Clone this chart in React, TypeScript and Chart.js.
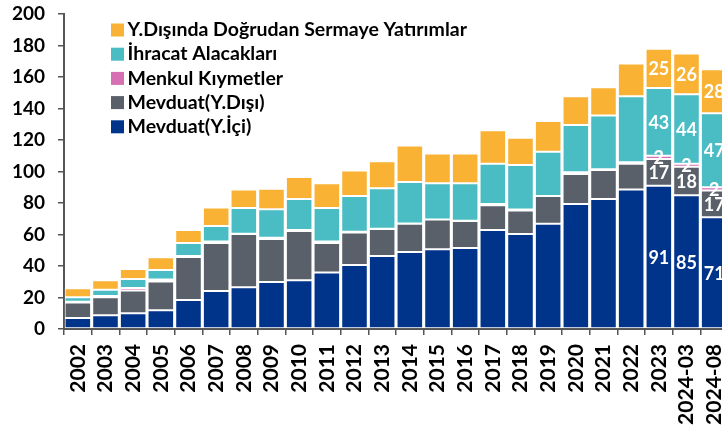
import React, { useEffect, useRef } from "react";
import { Chart, registerables } from "chart.js";

Chart.register(...registerables);

const categories = [
  "2002", "2003", "2004", "2005", "2006", "2007", "2008", "2009", "2010", "2011", "2012",
  "2013", "2014", "2015", "2016", "2017", "2018", "2019", "2020", "2021", "2022", "2023",
  "2024-03", "2024-08",
];

const mevduatIci = [7, 8.7, 10, 11.9, 18.4, 24.1, 26.5, 29.8, 30.9, 35.8, 40.6, 46.3, 48.9, 50.6, 51.4, 62.9, 60.3, 66.9, 79.3, 82.5, 88.5, 91, 85, 71];
const mevduatDisi = [9.8, 11.4, 14.4, 18.2, 27.3, 30.5, 33.8, 27.3, 31.3, 18.8, 20.6, 17.2, 18, 18.9, 17.2, 15.6, 14.9, 17.5, 19.1, 18.5, 16.5, 17, 18, 17];
const menkulKiymetler = [0.5, 0.9, 1.6, 1.3, 0.6, 0.9, 0.2, 0.9, 0.7, 0.9, 0.6, 0.2, 0.1, 0.1, 0.1, 0.8, 0.6, 0.1, 1.2, 0.4, 0.8, 2, 2, 2];
const ihracatAlacaklari = [2.8, 4, 5.8, 6.1, 8.3, 9.9, 16.3, 18, 19.6, 21.3, 22.6, 25.6, 26.4, 23, 23.8, 25.6, 28.3, 28, 29.9, 34.1, 42, 43, 44, 47];
const dogrudanYatirim = [5.8, 5.9, 6.3, 8, 8.3, 11.7, 11.7, 13.1, 14, 15.7, 16.2, 17.2, 23.1, 18.9, 18.9, 21.3, 17.4, 19.5, 18.3, 18, 20.7, 25, 26, 28];

const labeledCategories = ["2023", "2024-03", "2024-08"];

const seriesNames = [
  "Mevduat(Y.İçi)",
  "Mevduat(Y.Dışı)",
  "Menkul Kıymetler",
  "İhracat Alacakları",
  "Y.Dışında Doğrudan Sermaye Yatırımlar",
];
const seriesColors = ["#00338A", "#5A6069", "#D670B2", "#4ABCC4", "#F9B234"];

const FONT = "Lato, 'DejaVu Sans', sans-serif";

const W = 740;
const H = 460;

const dataLabelPlugin = {
  id: "segmentLabels",
  afterDatasetsDraw(chart: any) {
    const ctx = chart.ctx;
    ctx.save();
    ctx.fillStyle = "#ffffff";
    ctx.font = `bold 18px ${FONT}`;
    ctx.textAlign = "center";
    ctx.textBaseline = "middle";
    chart.data.datasets.forEach((ds: any, di: number) => {
      const meta = chart.getDatasetMeta(di);
      chart.data.labels.forEach((lab: string, i: number) => {
        if (!labeledCategories.includes(lab)) return;
        const el = meta.data[i];
        if (!el) return;
        const y = (el.y + el.base) / 2;
        ctx.fillText(String(Math.round(ds.data[i])), el.x, y + 1);
      });
    });
    ctx.restore();
  },
};

const legendPlugin = {
  id: "insideLegend",
  afterDraw(chart: any) {
    const ctx = chart.ctx;
    ctx.save();
    ctx.font = `bold 19.5px ${FONT}`;
    ctx.textBaseline = "middle";
    ctx.textAlign = "left";
    const x0 = 111;
    const y0 = 30;
    const step = 24.2;
    const n = chart.data.datasets.length;
    for (let k = 0; k < n; k++) {
      const di = n - 1 - k;
      const ds = chart.data.datasets[di];
      const yc = y0 + k * step;
      ctx.fillStyle = ds.backgroundColor;
      ctx.fillRect(x0, yc - 6.5, 13, 13);
      ctx.fillStyle = "#000000";
      ctx.fillText(ds.label, x0 + 16.5, yc);
    }
    ctx.restore();
  },
};

export default function App() {
  const canvasRef = useRef<HTMLCanvasElement | null>(null);

  useEffect(() => {
    const canvas = canvasRef.current;
    if (!canvas) return;
    const values = [mevduatIci, mevduatDisi, menkulKiymetler, ihracatAlacaklari, dogrudanYatirim];
    const chart = new Chart(canvas, {
      type: "bar",
      data: {
        labels: categories,
        datasets: values.map((v, i) => ({
          label: seriesNames[i],
          data: v,
          backgroundColor: seriesColors[i],
          borderColor: "rgba(255,255,255,0.55)",
          borderWidth: 1,
          borderSkipped: false,
          categoryPercentage: 1,
          barPercentage: 0.96,
        })),
      },
      options: {
        responsive: false,
        animation: false,
        devicePixelRatio: 1,
        layout: { padding: { top: 14, right: 12, left: 0, bottom: 0 } },
        plugins: {
          legend: { display: false },
          tooltip: { enabled: false },
        },
        scales: {
          x: {
            stacked: true,
            grid: {
              offset: true,
              drawOnChartArea: false,
              drawTicks: true,
              tickLength: 6,
              color: "#555555",
              lineWidth: 1.5,
            },
            border: { display: true, color: "#555555", width: 2 },
            ticks: {
              minRotation: 90,
              maxRotation: 90,
              autoSkip: false,
              padding: 9,
              color: "#000000",
              font: { family: FONT, size: 21, weight: "bold" },
            },
            afterFit(scale: any) {
              scale.height = H - 329;
              scale.paddingLeft = 0;
              scale.paddingRight = 0;
            },
          },
          y: {
            stacked: true,
            min: 0,
            max: 200,
            grid: {
              drawOnChartArea: false,
              drawTicks: true,
              tickLength: 6,
              color: "#555555",
              lineWidth: 1.5,
            },
            border: { display: true, color: "#555555", width: 2 },
            ticks: {
              stepSize: 20,
              padding: 13,
              color: "#000000",
              font: { family: FONT, size: 19, weight: "bold" },
            },
            afterFit(scale: any) {
              scale.width = 64;
              scale.paddingTop = 0;
              scale.paddingBottom = 0;
            },
          },
        },
      },
      plugins: [dataLabelPlugin, legendPlugin],
    } as any);
    return () => chart.destroy();
  }, []);

  return (
    <div
      style={{
        position: "fixed",
        left: 0,
        top: 0,
        width: 722,
        height: 432,
        overflow: "hidden",
        background: "#ffffff",
      }}
    >
      <canvas ref={canvasRef} width={W} height={H} style={{ display: "block", width: W, height: H }} />
    </div>
  );
}
